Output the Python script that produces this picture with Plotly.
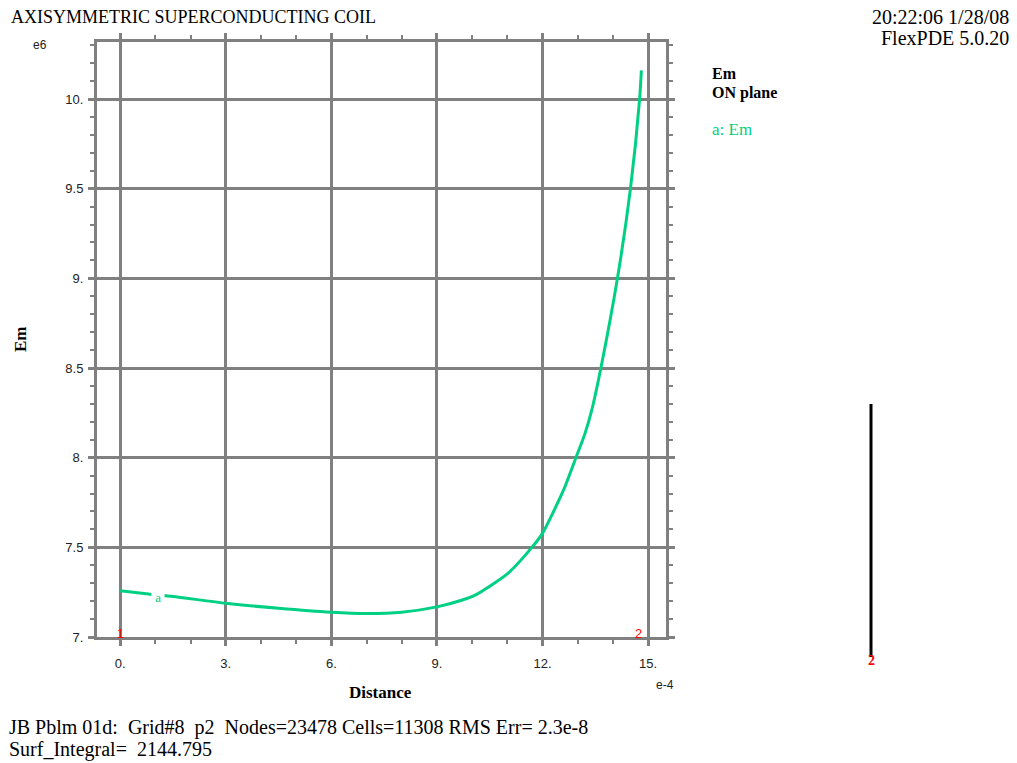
import plotly.graph_objects as go

# ---- data (x in units of 1e-4, y in units of 1e6) ----
distance = [0.0, 0.8, 1.5, 3.0, 4.5, 6.0, 7.0, 8.0, 9.0, 9.7, 10.1, 11.0, 11.7, 12.0,
            12.6, 12.95, 13.2, 13.4, 13.66, 14.13, 14.5, 14.76, 14.81]
em = [7.258, 7.24, 7.226, 7.188, 7.16, 7.138, 7.131, 7.138, 7.168, 7.205, 7.235, 7.352, 7.5, 7.578,
      7.82, 8.0, 8.13, 8.265, 8.5, 9.0, 9.5, 10.0, 10.16]

x_tickvals = [0, 3, 6, 9, 12, 15]
x_ticktext = ["0.", "3.", "6.", "9.", "12.", "15."]
y_tickvals = [7, 7.5, 8, 8.5, 9, 9.5, 10]
y_ticktext = ["7.", "7.5", "8.", "8.5", "9.", "9.5", "10."]

title_text = "AXISYMMETRIC SUPERCONDUCTING COIL"
stamp_lines = ["20:22:06 1/28/08", "FlexPDE 5.0.20"]
legend_lines = ["Em", "ON plane"]
series_name = "a: Em"
footer_lines = ["JB Pblm 01d:  Grid#8  p2  Nodes=23478 Cells=11308 RMS Err= 2.3e-8",
                "Surf_Integral=  2144.795"]

# ---- layout geometry (pixels) ----
W, H = 1017, 763
L, R, T, B = 97, 666, 42, 637
GREEN = "#00d084"
GRAY = "#808080"
SERIF = "Liberation Serif"
SANS = "Liberation Sans"


def px(x, y):
    return (x - L) / (R - L), (B - y) / (B - T)


fig = go.Figure()
fig.add_trace(go.Scatter(x=distance, y=em, mode="lines",
                         line=dict(color=GREEN, width=3, shape="spline", smoothing=0.6),
                         showlegend=False, hoverinfo="skip"))

annotations = []


def ann(text, x, y, size, color="black", family=SERIF, xanchor="left",
        yanchor="middle", textangle=0, bg=None):
    px_, py_ = px(x, y)
    d = dict(text=text, xref="paper", yref="paper", x=px_, y=py_,
             xanchor=xanchor, yanchor=yanchor, showarrow=False,
             font=dict(size=size, color=color, family=family), textangle=textangle)
    if bg:
        d["bgcolor"] = bg
        d["borderpad"] = 0
    annotations.append(d)


ann(title_text, 9, 17, 18)
ann(stamp_lines[0], 1011, 17, 20, xanchor="right")
ann(stamp_lines[1], 1011, 38, 20, xanchor="right")
ann("<b>" + legend_lines[0] + "</b>", 710, 73, 16)
ann("<b>" + legend_lines[1] + "</b>", 710, 93, 16)
ann(series_name, 710, 129, 17, color=GREEN)
ann("e6", 40, 45, 12, color="#222", family=SANS, xanchor="center")
ann("e-4", 665, 685, 12, color="#222", family=SANS, xanchor="center")
ann("<b>Distance</b>", 380, 692, 17, xanchor="center")
ann("<b>Em</b>", 20, 339, 17, xanchor="center", textangle=-90)
ann(footer_lines[0], 7, 727, 20)
ann(footer_lines[1], 7, 749, 20)
ann("&nbsp;a&nbsp;", 158, 597, 13, color=GREEN, xanchor="center", bg="white")
ann("1", 120, 633, 13, color="red", family=SANS, xanchor="center")
ann("2", 638, 633, 13, color="red", family=SANS, xanchor="center")
ann("<b>2</b>", 871, 660, 14, color="red", family=SERIF, xanchor="center")

sx0, sy0 = px(871, 404)
sx1, sy1 = px(871, 657)
shapes = [dict(type="line", xref="paper", yref="paper", x0=sx0, y0=sy0, x1=sx1, y1=sy1,
               line=dict(color="black", width=3))]

axis_common = dict(showline=True, linecolor=GRAY, linewidth=3, mirror="allticks",
                   showgrid=True, gridcolor=GRAY, gridwidth=3, zeroline=False,
                   ticks="outside", ticklen=6, tickwidth=3, tickcolor=GRAY,
                   tickfont=dict(family=SANS, size=13, color="#222"))

fig.update_layout(
    width=W, height=H, autosize=False,
    paper_bgcolor="white", plot_bgcolor="white",
    margin=dict(l=L, r=W - R, t=T, b=H - B, pad=0),
    xaxis=dict(range=[-0.66, 15.51], tickvals=x_tickvals, ticktext=x_ticktext,
               minor=dict(dtick=1, tick0=0, ticks="outside", ticklen=4, tickwidth=2,
                          tickcolor=GRAY, showgrid=False),
               ticklabelstandoff=6, **axis_common),
    yaxis=dict(range=[7.0, 10.318], tickvals=y_tickvals, ticktext=y_ticktext,
               minor=dict(dtick=0.1, tick0=7, ticks="outside", ticklen=4, tickwidth=2,
                          tickcolor=GRAY, showgrid=False),
               ticklabelstandoff=2, **axis_common),
    annotations=annotations, shapes=shapes,
)

fig.write_html("out.html", config={"displayModeBar": False},
               post_script="document.body.style.margin='0px';document.body.style.padding='0px';")
